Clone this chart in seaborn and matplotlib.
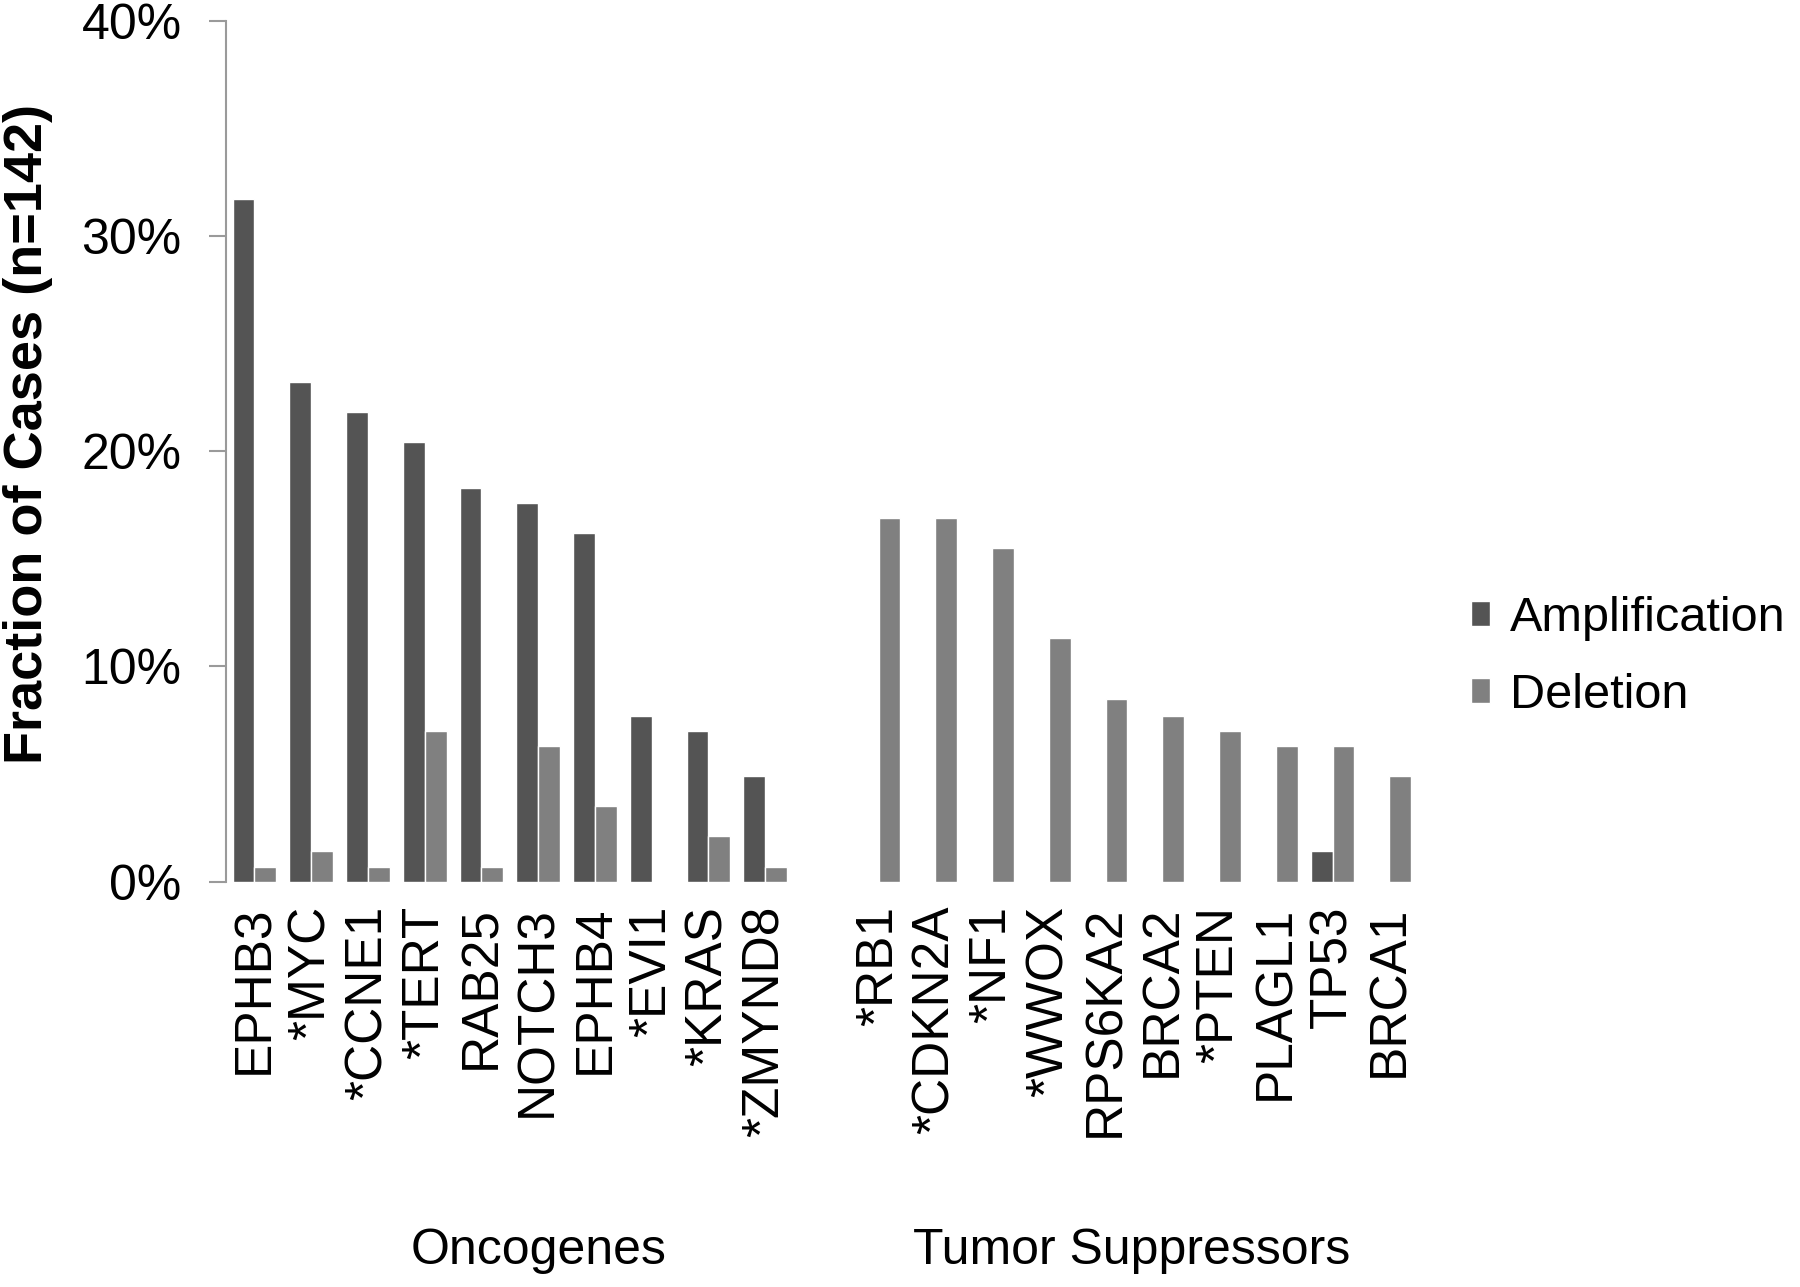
import numpy as np
import pandas as pd
import matplotlib
matplotlib.use("Agg")
import matplotlib.pyplot as plt
import matplotlib.transforms as mtransforms
from matplotlib.ticker import PercentFormatter
import seaborn as sns

# gene order as in the figure, a blank slot separates the two groups
oncogenes = ["EPHB3", "*MYC", "*CCNE1", "*TERT", "RAB25",
             "NOTCH3", "EPHB4", "*EVI1", "*KRAS", "*ZMYND8"]
suppressors = ["*RB1", "*CDKN2A", "*NF1", "*WWOX", "RPS6KA2",
               "BRCA2", "*PTEN", "PLAGL1", "TP53", "BRCA1"]

# percent of cases (n=142)
onco_amp = [31.7, 23.2, 21.8, 20.4, 18.3, 17.6, 16.2, 7.7, 7.0, 4.9]
onco_del = [0.7, 1.4, 0.7, 7.0, 0.7, 6.3, 3.5, 0.0, 2.1, 0.7]
supp_amp = [0.0, 0.0, 0.0, 0.0, 0.0, 0.0, 0.0, 0.0, 1.4, 0.0]
supp_del = [16.9, 16.9, 15.5, 11.3, 8.5, 7.7, 7.0, 6.3, 6.3, 4.9]

gap = " "
genes = oncogenes + suppressors
order = oncogenes + [gap] + suppressors

df = pd.DataFrame({
    "gene": genes * 2,
    "type": ["Amplification"] * len(genes) + ["Deletion"] * len(genes),
    "pct": onco_amp + supp_amp + onco_del + supp_del,
})
df["frac"] = df["pct"] / 100

sns.set_style("white")
plt.rcParams["font.family"] = ["Liberation Sans", "DejaVu Sans"]
plt.rcParams["text.color"] = "black"
plt.rcParams["axes.labelcolor"] = "black"
plt.rcParams["xtick.labelcolor"] = "black"
plt.rcParams["ytick.labelcolor"] = "black"

fig = plt.figure(figsize=(18, 12.87), dpi=100)
ax = fig.add_axes([0.1256, 0.315, 0.662, 0.669])

sns.barplot(data=df, x="gene", y="frac", hue="type", order=order,
            hue_order=["Amplification", "Deletion"],
            palette=["#545454", "#808080"], saturation=1, width=0.77,
            ax=ax, legend=True)

ax.set_ylim(0, 0.40)
ax.set_xlim(-0.5, len(order) - 0.5)
ax.set_yticks([0, 0.1, 0.2, 0.3, 0.4])
ax.yaxis.set_major_formatter(PercentFormatter(1.0, decimals=0))

for s in ["top", "right", "bottom"]:
    ax.spines[s].set_visible(False)
ax.spines["left"].set_color("#9a9a9a")
ax.spines["left"].set_linewidth(1.5)

ax.tick_params(axis="y", which="major", left=True, length=12, width=1.5,
               color="#9a9a9a", pad=20, labelsize=36)
ax.tick_params(axis="x", bottom=False, pad=14, labelsize=37)
for lab in ax.get_xticklabels():
    lab.set_rotation(90)

ax.set_xlabel("")
ax.set_ylabel("Fraction of Cases (n=142)", fontsize=39, fontweight="bold")
ax.yaxis.set_label_coords(-0.145, 0.52)

# legend at the right
ax.legend_.remove()
handles, labels = ax.get_legend_handles_labels()
fig.legend(handles[:2], labels[:2], loc="center left",
           bbox_to_anchor=(0.8036, 0.4895), frameon=False, fontsize=35,
           handlelength=0.4, handleheight=0.4, handletextpad=0.4,
           labelspacing=0.66, borderpad=0)

# group names under the tick labels
trans = mtransforms.blended_transform_factory(ax.transData, fig.transFigure)
ax.text(5.0, 0.028, "Oncogenes", transform=trans, ha="center", va="center",
        fontsize=36)
ax.text(15.45, 0.028, "Tumor Suppressors", transform=trans, ha="center",
        va="center", fontsize=36)

fig.savefig("out.png", dpi=100, facecolor="white")
